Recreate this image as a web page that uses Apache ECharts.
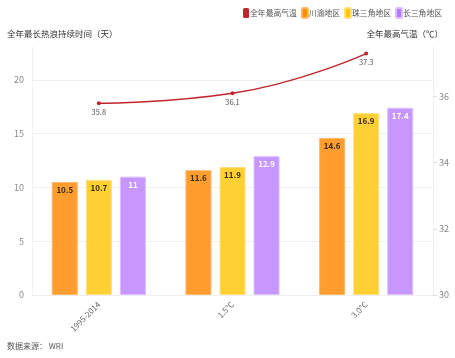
<!DOCTYPE html>
<html><head><meta charset="utf-8">
<script src="https://cdn.jsdelivr.net/npm/echarts@6/dist/echarts.min.js"></script>
<style>html,body{margin:0;padding:0;background:#fff}#c{width:455px;height:358px}</style>
</head><body><div id="c"></div>
<script>
var categories = ['1995-2014', '1.5℃', '3.0℃'];
var chuanyu = [10.5, 11.6, 14.6];
var zhusanjiao = [10.7, 11.9, 16.9];
var changsanjiao = [11, 12.9, 17.4];
var maxTemp = [35.8, 36.1, 37.3];
var leftTicks = [0, 5, 10, 15, 20];
var rightTicks = [30, 32, 34, 36];

var font = '"Noto Sans CJK SC", "Noto Sans", sans-serif';
var chart = echarts.init(document.getElementById('c'), null, {renderer: 'canvas'});
function barSeries(name, data, color, border, labelColor) {
  return {
    name: name, type: 'bar', yAxisIndex: 0, data: data,
    barWidth: 26, barGap: '31%',
    itemStyle: {color: color, borderColor: border, borderWidth: 1},
    label: {show: true, position: 'insideTop', distance: 4, color: labelColor,
      fontSize: 8, fontWeight: 'bold', fontFamily: font}
  };
}
chart.setOption({
  animation: false,
  textStyle: {fontFamily: font},
  title: [
    {text: '全年最长热浪持续时间（天）', left: 7, top: 30, padding: 0,
      textStyle: {fontSize: 8.5, fontWeight: 'normal', color: '#333', fontFamily: font}},
    {text: '全年最高气温（℃）', right: 12, top: 30, padding: 0,
      textStyle: {fontSize: 8.5, fontWeight: 'normal', color: '#333', fontFamily: font}},
    {text: '数据来源： WRI', left: 7, top: 342, padding: 0,
      textStyle: {fontSize: 8, fontWeight: 'normal', color: '#555', fontFamily: font}}
  ],
  legend: {
    right: 13, top: 7, itemWidth: 6, itemHeight: 10, itemGap: 4,
    icon: 'roundRect', padding: 0,
    textStyle: {fontSize: 7.8, color: '#555', padding: [0, 0, 0, -4]},
    data: [
      {name: '全年最高气温', itemStyle: {color: '#C0252B'}},
      {name: '川渝地区', itemStyle: {color: '#FF8A00'}},
      {name: '珠三角地区', itemStyle: {color: '#FFC400'}},
      {name: '长三角地区', itemStyle: {color: '#B57BFF'}}
    ]
  },
  grid: {left: 32, right: 22, top: 47, bottom: 63},
  xAxis: {
    type: 'category', data: categories,
    axisLine: {lineStyle: {color: '#eeeeee'}},
    axisTick: {show: false},
    axisLabel: {rotate: 45, color: '#666', fontSize: 8, margin: 8}
  },
  yAxis: [
    {type: 'value', min: 0, max: 23.05, interval: 5,
      axisLine: {show: true, lineStyle: {color: '#f0f0f0'}},
      axisTick: {show: false},
      splitLine: {lineStyle: {color: '#f0f0f0'}, showMaxLine: false},
      axisLabel: {color: '#888', fontSize: 9, margin: 8, showMaxLabel: false,
        formatter: function (v) { return leftTicks.indexOf(v) >= 0 ? String(v) : ''; }}
    },
    {type: 'value', min: 30, max: 37.5, interval: 2,
      axisLine: {show: true, lineStyle: {color: '#f0f0f0'}},
      axisTick: {show: true, length: 4, lineStyle: {color: '#dddddd'}},
      splitLine: {show: false},
      axisLabel: {color: '#888', fontSize: 9, margin: 6, showMaxLabel: false,
        formatter: function (v) { return rightTicks.indexOf(v) >= 0 ? String(v) : ''; }}
    }
  ],
  series: [
    barSeries('川渝地区', chuanyu, '#FF9E2E', '#FFB766', '#3a2a10'),
    barSeries('珠三角地区', zhusanjiao, '#FFD034', '#FFE07A', '#3a2a10'),
    barSeries('长三角地区', changsanjiao, '#C896FF', '#DDBDFF', '#ffffff'),
    {name: '全年最高气温', type: 'line', yAxisIndex: 1, data: maxTemp, smooth: true,
      symbol: 'circle', symbolSize: 4, z: 5,
      lineStyle: {color: '#C0252B', width: 1.5},
      itemStyle: {color: '#C0252B'},
      label: {show: true, position: 'bottom', distance: 3, color: '#555', fontSize: 7.5}
    }
  ]
});
</script></body></html>
